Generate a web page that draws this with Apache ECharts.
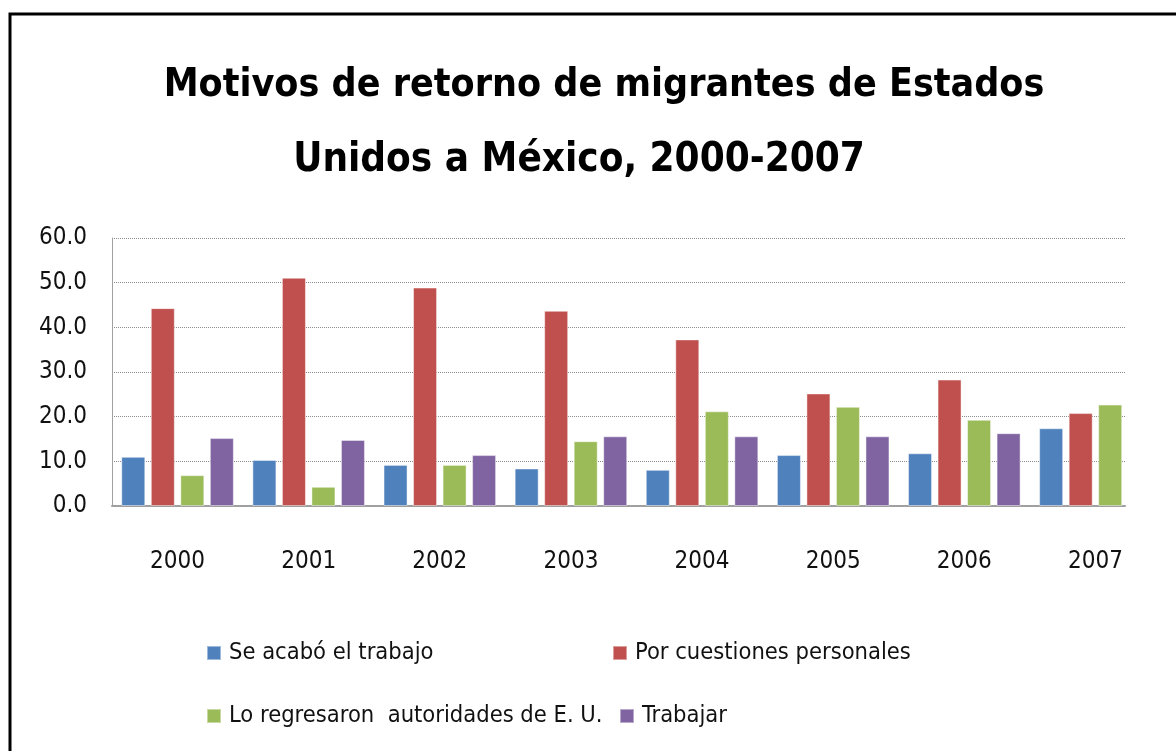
<!DOCTYPE html>
<html>
<head>
<meta charset="utf-8">
<title>Motivos de retorno de migrantes</title>
<script src="https://cdn.jsdelivr.net/npm/echarts@6/dist/echarts.min.js"></script>
<style>
  html, body { margin: 0; padding: 0; background: #fff; }
  #chart { width: 1176px; height: 751px; }
</style>
</head>
<body>
<div id="chart"></div>
<script>
// values (percent)
let years = ['2000', '2001', '2002', '2003', '2004', '2005', '2006', '2007'];
let seAcabo = [11.0, 10.3, 9.2, 8.4, 8.1, 11.4, 11.8, 17.4];
let personales = [44.3, 51.1, 48.9, 43.7, 37.3, 25.2, 28.3, 20.8];
let autoridades = [6.9, 4.3, 9.2, 14.5, 21.2, 22.2, 19.3, 22.7];
let trabajar = [15.2, 14.8, 11.4, 15.6, 15.6, 15.6, 16.3, null];

let seriesNames = ['Se acabó el trabajo', 'Por cuestiones personales', 'Lo regresaron  autoridades de E. U.', 'Trabajar'];
let seriesData = [seAcabo, personales, autoridades, trabajar];
let colors = ['#4F81BD', '#C0504D', '#9BBB59', '#8064A2'];

let font = '"Liberation Sans Narrow", "DejaVu Sans Condensed", "Arial Narrow", sans-serif';

let chart = echarts.init(document.getElementById('chart'));

// legend laid out in two rows like the original
let legendPos = [[206, 641], [612, 641], [206, 704], [619, 704]];
let legends = seriesNames.map(function(name, i){
    return {
        data: [name],
        left: legendPos[i][0],
        top: legendPos[i][1],
        padding: 0,
        icon: 'rect',
        itemWidth: 14,
        itemHeight: 14,
        selectedMode: false,
        textStyle: {fontFamily: font, fontSize: 23.5, color: '#111', padding: [0, 0, 0, 3]}
    };
});

let series = seriesNames.map(function(name, i){
    return {
        name: name,
        type: 'bar',
        xAxisIndex: 1,
        yAxisIndex: 1,
        barWidth: 24,
        barGap: '23%',
        data: seriesData[i],
        itemStyle: {color: colors[i], borderColor: 'rgba(255,255,255,0.45)', borderWidth: 1}
    };
});

let option = {
    animation: false,
    backgroundColor: '#fff',
    title: [{
        text: 'Motivos de retorno de migrantes de Estados',
        left: 599,
        top: 61,
        textAlign: 'center',
        textStyle: {fontFamily: font, fontSize: 39, fontWeight: 'bold', color: '#000'}
    }, {
        text: 'Unidos a México, 2000-2007',
        left: 574,
        top: 136,
        textAlign: 'center',
        textStyle: {fontFamily: font, fontSize: 40, fontWeight: 'bold', color: '#000'}
    }],
    legend: legends,
    grid: [
        // grid holding the gridlines and the visible axis line
        {left: 112, right: 51, top: 238, bottom: 245},
        // grid holding the bars (category spacing runs a bit past the gridlines)
        {left: 112, right: 15, top: 238, bottom: 245}
    ],
    xAxis: [{
        type: 'category',
        gridIndex: 0,
        data: years,
        axisLine: {lineStyle: {color: '#a0a0a0', width: 2}},
        axisTick: {show: false},
        axisLabel: {show: false}
    }, {
        type: 'category',
        gridIndex: 1,
        data: years,
        axisLine: {show: false},
        axisTick: {show: false},
        axisLabel: {fontFamily: font, fontSize: 24, color: '#111', margin: 44}
    }],
    yAxis: [{
        type: 'value',
        gridIndex: 0,
        min: 0,
        max: 60,
        interval: 10,
        axisLine: {show: true, lineStyle: {color: '#a0a0a0', width: 1}},
        axisTick: {show: false},
        axisLabel: {
            fontFamily: font, fontSize: 24, color: '#111', margin: 25,
            formatter: function(v){ return v.toFixed(1); }
        },
        splitLine: {lineStyle: {color: '#8c8c8c', type: [1, 1], width: 1}}
    }, {
        type: 'value',
        gridIndex: 1,
        min: 0,
        max: 60,
        interval: 10,
        show: false,
        splitLine: {show: false}
    }],
    graphic: [{
        // outer chart frame, cut off at right and bottom in the original
        type: 'rect',
        shape: {x: 10, y: 14, width: 1200, height: 800},
        style: {fill: 'none', stroke: '#000', lineWidth: 3},
        silent: true
    }],
    series: series
};

chart.setOption(option);
</script>
</body>
</html>
